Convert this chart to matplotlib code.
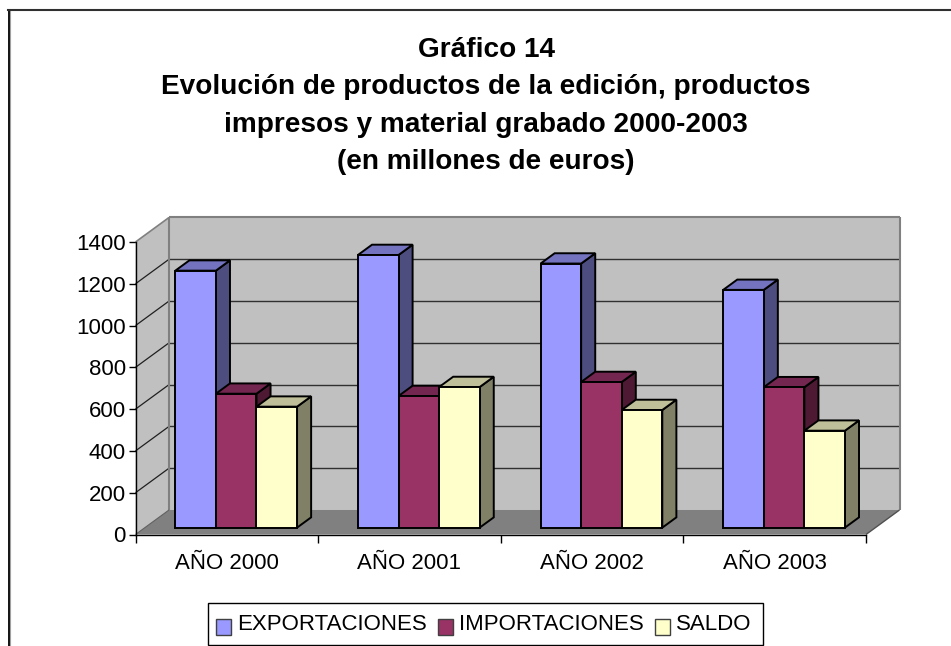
import matplotlib
matplotlib.use('Agg')
import matplotlib.pyplot as plt
from matplotlib.patches import Polygon, Patch, Rectangle

plt.rcParams['font.family'] = ['Liberation Sans', 'DejaVu Sans']

# values (millones de euros)
years = ['AÑO 2000', 'AÑO 2001', 'AÑO 2002', 'AÑO 2003']
exportaciones = [1230, 1305, 1264, 1138]
importaciones = [641, 630, 697, 672]
saldo = [579, 673, 563, 464]
y_ticks = [0, 200, 400, 600, 800, 1000, 1200, 1400]
title = ('Gráfico 14\nEvolución de productos de la edición, productos\n'
         'impresos y material grabado 2000-2003\n(en millones de euros)')

series = [
    ('EXPORTACIONES', exportaciones, '#9999FF', '#7373BF', '#4D4D80'),
    ('IMPORTACIONES', importaciones, '#993366', '#732650', '#4D1933'),
    ('SALDO', saldo, '#FFFFCC', '#BFBF99', '#808066'),
]

W, H = 951, 646
# depth of the box, in category units and in value units
DX = 33.5 / 182.6
DY = 117.3
BAR_W = 0.2222
BAR_D0, BAR_D1 = 0.28, 0.70


# x, value, depth -> axes data coords
def proj(x, v, d):
    return (x + d * DX, v + d * DY)


def poly(ax, pts, fc, ec='none', lw=0.0, z=1):
    ax.add_patch(Polygon([proj(*p) for p in pts], closed=True, facecolor=fc, edgecolor=ec,
                         linewidth=lw, zorder=z, clip_on=False, joinstyle='miter'))


def line(ax, a, b, color, lw=1.0, z=2):
    pa, pb = proj(*a), proj(*b)
    ax.plot([pa[0], pb[0]], [pa[1], pb[1]], color=color, lw=lw, zorder=z, clip_on=False,
            solid_capstyle='butt')


def draw_box(ax, top):
    n = len(years)
    poly(ax, [(0, 0, 1), (n, 0, 1), (n, top, 1), (0, top, 1)], '#C0C0C0')
    poly(ax, [(0, 0, 0), (0, 0, 1), (0, top, 1), (0, top, 0)], '#C0C0C0')
    poly(ax, [(0, 0, 0), (n, 0, 0), (n, 0, 1), (0, 0, 1)], '#808080')
    for v in y_ticks[1:-1]:
        line(ax, (0, v, 1), (n, v, 1), '#303030', 1.0)
        line(ax, (0, v, 0), (0, v, 1), '#202020', 0.9)
    # wall outline
    line(ax, (0, 0, 1), (0, top, 1), '#808080', 1.5)
    line(ax, (0, top, 1), (n, top, 1), '#808080', 1.5)
    line(ax, (n, top, 1), (n, 0, 1), '#808080', 1.5)
    line(ax, (0, top, 0), (0, top, 1), '#808080', 1.2)
    line(ax, (n, 0, 0), (n, 0, 1), '#505050', 1.0)
    line(ax, (0, 0, 0), (0, 0, 1), '#606060', 0.8)


def draw_bar(ax, x0, val, front, topc, sidec, z):
    x1 = x0 + BAR_W
    d0, d1 = BAR_D0, BAR_D1
    poly(ax, [(x1, 0, d0), (x1, 0, d1), (x1, val, d1), (x1, val, d0)], sidec, 'black', 1.4, z)
    poly(ax, [(x0, val, d0), (x1, val, d0), (x1, val, d1), (x0, val, d1)], topc, 'black', 1.4, z)
    poly(ax, [(x0, 0, d0), (x1, 0, d0), (x1, val, d0), (x0, val, d0)], front, 'black', 1.4, z)


fig = plt.figure(figsize=(W / 100, H / 100), dpi=100)
fig.patch.set_facecolor('white')

# outer chart frame: no right or bottom side, they fall outside the crop
fig.add_artist(plt.Line2D([10.2 / W, 10.2 / W], [0, 1 - 10 / H], color='#A0A0A0', lw=0.8))
fig.add_artist(plt.Line2D([8.7 / W, 8.7 / W], [0, 1 - 9.5 / H], color='black', lw=1.3))
fig.add_artist(plt.Line2D([8 / W, 1], [1 - 9.8 / H, 1 - 9.8 / H], color='#303030', lw=1.5))

ax = fig.add_axes([135.5 / W, 1 - 534.5 / H, (866 - 135.5) / W, (534.5 - 242) / H])
ax.set_xlim(0, len(years))
ax.set_ylim(0, 1400)
ax.patch.set_visible(False)
for s in ['top', 'right']:
    ax.spines[s].set_visible(False)
for s in ['left', 'bottom']:
    ax.spines[s].set_linewidth(1.0)
    ax.spines[s].set_zorder(3)

draw_box(ax, 1400)

z = 5
for i in range(len(years)):
    x = i + 0.5 - 1.5 * BAR_W
    for j, (name, vals, front, topc, sidec) in enumerate(series):
        draw_bar(ax, x + j * BAR_W, vals[i], front, topc, sidec, z)
        z += 1

ax.set_yticks(y_ticks)
ax.tick_params(axis='y', length=5, width=1, labelsize=16, pad=2)
ax.set_xticks(range(len(years) + 1))
ax.set_xticklabels([])
ax.tick_params(axis='x', which='major', length=5.5, width=1)
ax.set_xticks([i + 0.5 for i in range(len(years))], minor=True)
ax.set_xticklabels(years, minor=True, fontsize=16)
ax.tick_params(axis='x', which='minor', length=0, pad=13)

fig.text(486 / W, 1 - 106 / H, title, ha='center', va='center', fontsize=20.2, fontweight='bold',
         linespacing=1.58)

# legend frame drawn apart, the legend's own padding can't be set per side
fig.add_artist(Rectangle((207.5 / W, 1 - 645 / H), (763 - 207.5) / W, 42 / H, transform=fig.transFigure,
                         facecolor='white', edgecolor='black', linewidth=1.0))
handles = [Patch(facecolor=s[2], edgecolor='#404040', linewidth=1.0, label=s[0]) for s in series]
leg = fig.legend(handles=handles, loc='center', bbox_to_anchor=(483.5 / W, 1 - 625 / H), ncol=3,
                 frameon=False, fontsize=16,
                 handlelength=0.68, handleheight=0.68, handletextpad=0.27, columnspacing=0.5,
                 borderpad=0, borderaxespad=0)
for h in leg.legend_handles:
    h.set_y(h.get_y() - 3)

plt.savefig('out.png', dpi=100)
plt.close()
